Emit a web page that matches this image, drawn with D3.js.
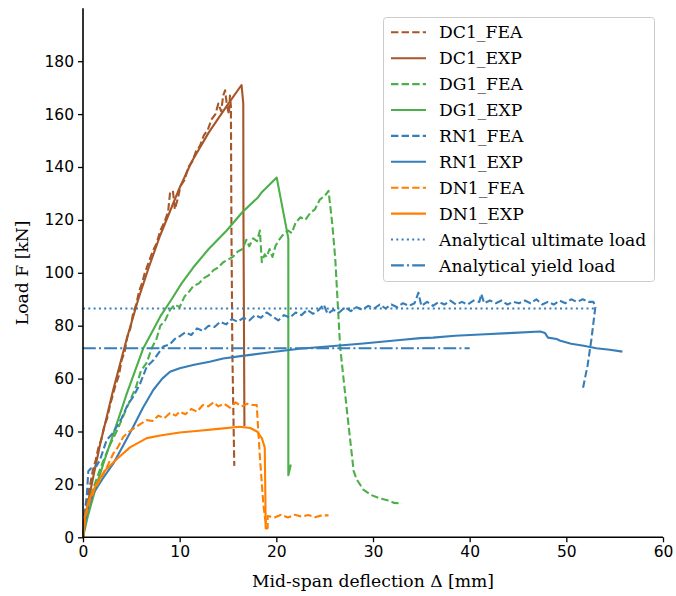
<!DOCTYPE html>
<html><head><meta charset="utf-8">
<script src="https://cdn.jsdelivr.net/npm/d3@7"></script>
<style>body{margin:0;background:#fff}svg{display:block}</style>
</head><body><svg id="c" width="676" height="596"></svg>
<script>
const xTicks=[0,10,20,30,40,50,60];
const yTicks=[0,20,40,60,80,100,120,140,160,180];
const legendLabels=["DC1_FEA","DC1_EXP","DG1_FEA","DG1_EXP","RN1_FEA","RN1_EXP","DN1_FEA","DN1_EXP","Analytical ultimate load","Analytical yield load"];

const DC1_FEA=[[0,0],[0.2,9],[0.5,16],[0.8,21],[1.0,25],[1.3,29],[1.6,34],[1.9,37],[2.2,42],[2.5,45],[2.8,50],[3.1,54],[3.4,58],[3.7,61],[4.0,67],[4.3,70],[4.6,76],[4.9,79],[5.2,85],[5.5,88],[5.8,93],[6.1,96],[6.4,100],[6.8,104],[7.2,108],[7.6,111],[8.0,116],[8.4,119],[8.8,123],[9.0,130],[9.3,131],[9.5,124],[9.8,128],[10.1,133],[10.5,135],[10.9,140],[11.3,142],[11.7,146],[12.1,148],[12.5,152],[12.9,154],[13.3,158],[13.7,160],[14.0,164],[14.3,161],[14.5,167],[14.7,169],[14.9,163],[15.1,160],[15.2,167],[15.3,163],[15.35,120],[15.45,70],[15.65,27]];
const DC1_EXP=[[0,0],[0.4,11],[1.07,23],[1.76,35],[3.14,56],[4.52,75],[5.72,90],[6.8,102],[7.97,114],[9.86,131],[11.24,142],[13,153],[14.86,163],[16.4,171],[16.58,164],[16.6,120],[16.7,42]];
const DG1_FEA=[[0,0],[0.3,10],[1,18],[2,28],[2.8,35],[3.6,41],[4.3,47],[4.9,52],[5.5,57],[6,63],[6.6,66],[7.1,71.5],[7.6,75],[8,80],[8.5,82],[9,86],[9.5,88],[10,87],[10.5,91],[11,93],[11.4,95],[12,96],[12.5,98],[13,99],[13.5,101],[14,102],[14.5,104],[15,105],[15.5,106],[16,108],[16.5,109],[16.9,112.5],[17.2,110],[17.6,113],[18.0,112],[18.3,116],[18.5,104],[18.8,107],[19.0,106],[19.3,109],[19.6,106],[19.9,110],[20.2,112],[20.6,114],[21.2,116],[21.6,115],[22,119],[22.5,121],[23,120],[23.5,122.6],[24,124],[24.5,127.7],[25,129],[25.4,131],[25.8,118],[26.1,105],[26.6,72],[27.3,48],[28,25],[28.3,22],[29,18],[29.8,16],[30.7,14.7],[31.5,14],[32.2,13],[33,12.8]];
const DG1_EXP=[[0,0],[0.5,8],[1.42,20],[2.3,30],[3.14,39],[4.5,54],[6.24,71.5],[7.2,78],[8,83.5],[9.17,90],[10.2,96],[11.4,102],[13,109],[14.87,116],[16.5,123],[18.1,128.5],[18.5,130.5],[20.04,136],[21.24,113],[21.24,60],[21.24,23.5],[21.5,27.5]];
const RN1_FEA=[[0,0],[0.2,10],[0.4,16],[0.55,25],[0.8,26],[1.07,26.3],[1.4,27],[1.76,29.2],[2.1,33],[2.45,36.8],[3.0,39],[3.48,41.8],[4.0,45],[4.6,50],[5.2,53.2],[5.9,58],[6.59,64.5],[7.3,67],[8.3,72.1],[9,73],[9.5,75],[10,76],[10.6,77.5],[11.2,76.5],[11.8,79],[12.4,78],[13,80],[13.6,79.5],[14.2,81.5],[14.8,80.5],[15.4,82.5],[16,81.5],[16.6,83],[17.2,82],[17.8,84],[18.4,83],[19,85],[19.6,83.5],[20.2,82],[20.8,84],[21.4,83],[22,85],[22.6,84],[23.2,86],[23.8,84.5],[24.4,86],[24.9,88],[25.3,84.5],[25.9,86],[26.5,85],[27.1,87],[27.7,85.5],[28.3,87],[28.9,86],[29.5,87.5],[30.1,86.5],[30.7,88],[31.3,86.5],[31.9,88],[32.5,87],[33.1,88.5],[33.7,87.5],[34.3,88.5],[34.7,92.5],[35.0,87.5],[35.6,89],[36.2,87.5],[36.8,89],[37.4,88],[38,89.5],[38.6,88],[39.2,89],[39.8,88],[40.4,89.5],[41.0,89],[41.2,92],[41.5,88.5],[42.1,89.5],[42.7,88.5],[43.3,89.5],[43.9,88],[44.5,89],[45.1,88.5],[45.7,89.5],[46.3,88.5],[46.9,90],[47.5,88],[48.1,89],[48.7,88],[49.3,89.5],[49.9,88.5],[50.5,90],[51.1,89],[51.7,90],[52.3,89],[52.8,89],[53.0,87],[52.6,75],[52.2,65],[51.7,56]];
const RN1_EXP=[[0,0],[0.3,7],[0.6,12],[1.07,16.6],[2,22],[3.14,27.9],[4.2,35],[5.2,41.8],[6.2,49],[7.27,55.7],[8.2,60],[9,62.6],[10,63.9],[11.5,65.2],[13.1,66.4],[14.5,67.6],[16.5,68.6],[19,69.8],[22.4,71.3],[25.9,72.3],[29,73.3],[32.8,74.6],[34.9,75.3],[36.2,75.5],[38.5,76.2],[41.1,76.7],[44,77.2],[47.3,77.8],[47.8,77.2],[48.1,75.5],[49,75],[49.3,74.4],[50.5,73.2],[51.8,72.4],[53.1,71.5],[54.5,70.9],[55.8,70.2]];
const DN1_FEA=[[0,0],[0.3,8],[0.72,14],[1.2,18],[1.76,21.6],[2.4,26],[3.14,31.7],[3.6,34],[4.17,38],[4.8,40],[5.4,41.5],[6.0,43],[6.59,44.3],[7.2,44],[7.8,46],[8.4,45],[9.0,47],[9.6,46],[10,47.5],[10.6,46.5],[11.2,48.5],[11.8,47.5],[12.4,50],[12.96,49.5],[13.5,51],[14.0,49.5],[14.6,50.5],[15.2,49],[15.8,51],[16.4,49.5],[17.0,50.5],[17.6,50],[17.97,50],[18.3,30.4],[18.65,12.8],[18.8,8],[19.0,3.5],[19.1,3.5],[19.1,8],[19.8,7.5],[20.5,8.5],[21.2,7.5],[21.9,8.5],[22.6,7.8],[23.3,8.4],[24,7.6],[24.7,8.3],[25.4,8.3]];
const DN1_EXP=[[0,0],[0.2,8],[0.6,14],[1.24,19],[2.2,25],[3.48,29.5],[4.86,34],[6.6,37.5],[8,38.5],[10,39.6],[12,40.3],[14,41],[16.2,41.8],[17.3,41.3],[18,40],[18.5,37.5],[18.8,34],[18.85,20],[18.9,3.3],[19.1,3.3]];
const ultimateLoad=86.5, ultimateEnd=53;
const yieldLoad=71.5, yieldEnd=40;

const svg=d3.select("#c");
const m={l:83,r:663,t:8.3,b:537.3};
const x=d3.scaleLinear().domain([0,60]).range([m.l,m.r]);
const y=d3.scaleLinear().domain([0,200]).range([m.b,m.t]);

const C={brown:"#a65628",green:"#4daf4a",blue:"#377eb8",orange:"#ff7f00"};
const dash="7.4,3.2", dot="2,3.3", dashdot="12.8,3.2,2,3.2";
const series=[
 {d:DC1_FEA,c:C.brown,da:dash},{d:DC1_EXP,c:C.brown,da:null},
 {d:DG1_FEA,c:C.green,da:dash},{d:DG1_EXP,c:C.green,da:null},
 {d:RN1_FEA,c:C.blue,da:dash},{d:RN1_EXP,c:C.blue,da:null},
 {d:DN1_FEA,c:C.orange,da:dash},{d:DN1_EXP,c:C.orange,da:null},
 {d:[[0,ultimateLoad],[ultimateEnd,ultimateLoad]],c:C.blue,da:dot},
 {d:[[0,yieldLoad],[yieldEnd,yieldLoad]],c:C.blue,da:dashdot}
];
const line=d3.line().x(p=>x(p[0])).y(p=>y(p[1]));
series.forEach(s=>{
  svg.append("path").attr("d",line(s.d)).attr("fill","none").attr("stroke",s.c)
   .attr("stroke-width",2.1).attr("stroke-dasharray",s.da).attr("stroke-linejoin","round");
});

const xa=svg.append("g").attr("transform",`translate(0,${m.b})`).call(d3.axisBottom(x).tickValues(xTicks).tickSize(5).tickPadding(4).tickFormat(d3.format("d")));
const ya=svg.append("g").attr("transform",`translate(${m.l},0)`).call(d3.axisLeft(y).tickValues(yTicks).tickSize(5).tickPadding(4).tickFormat(d3.format("d")));
[xa,ya].forEach(a=>{a.selectAll("text").attr("font-family","DejaVu Sans").attr("font-size",15.5).attr("fill","#000");
 a.select(".domain").attr("stroke-width",1.6).attr("stroke","#000");
 a.selectAll(".tick line").attr("stroke-width",1.3).attr("stroke","#000");});
ya.select(".domain").attr("d",`M0,${m.b}V${m.t}`);
xa.select(".domain").attr("d",`M${m.l},0H${m.r}`);

svg.append("text").attr("x",(m.l+m.r)/2).attr("y",587).attr("text-anchor","middle")
 .attr("font-family","DejaVu Serif").attr("font-size",17.2).text("Mid-span deflection Δ [mm]");
svg.append("text").attr("transform",`translate(28,${(m.t+m.b)/2}) rotate(-90)`).attr("text-anchor","middle")
 .attr("font-family","DejaVu Serif").attr("font-size",17.2).text("Load F [kN]");

const lg=svg.append("g");
lg.append("rect").attr("x",383.5).attr("y",17.5).attr("width",271).attr("height",264).attr("rx",3)
 .attr("fill","#fff").attr("fill-opacity",0.8).attr("stroke","#cccccc").attr("stroke-width",1);
legendLabels.forEach((t,i)=>{
  const cy=32.3+i*25.9, s=series[i];
  lg.append("line").attr("x1",391).attr("x2",426).attr("y1",cy).attr("y2",cy)
   .attr("stroke",s.c).attr("stroke-width",2.1).attr("stroke-dasharray",s.da);
  lg.append("text").attr("x",439).attr("y",cy).attr("dy","0.36em")
   .attr("font-family","DejaVu Serif").attr("font-size",17.2).text(t);
});
</script></body></html>
